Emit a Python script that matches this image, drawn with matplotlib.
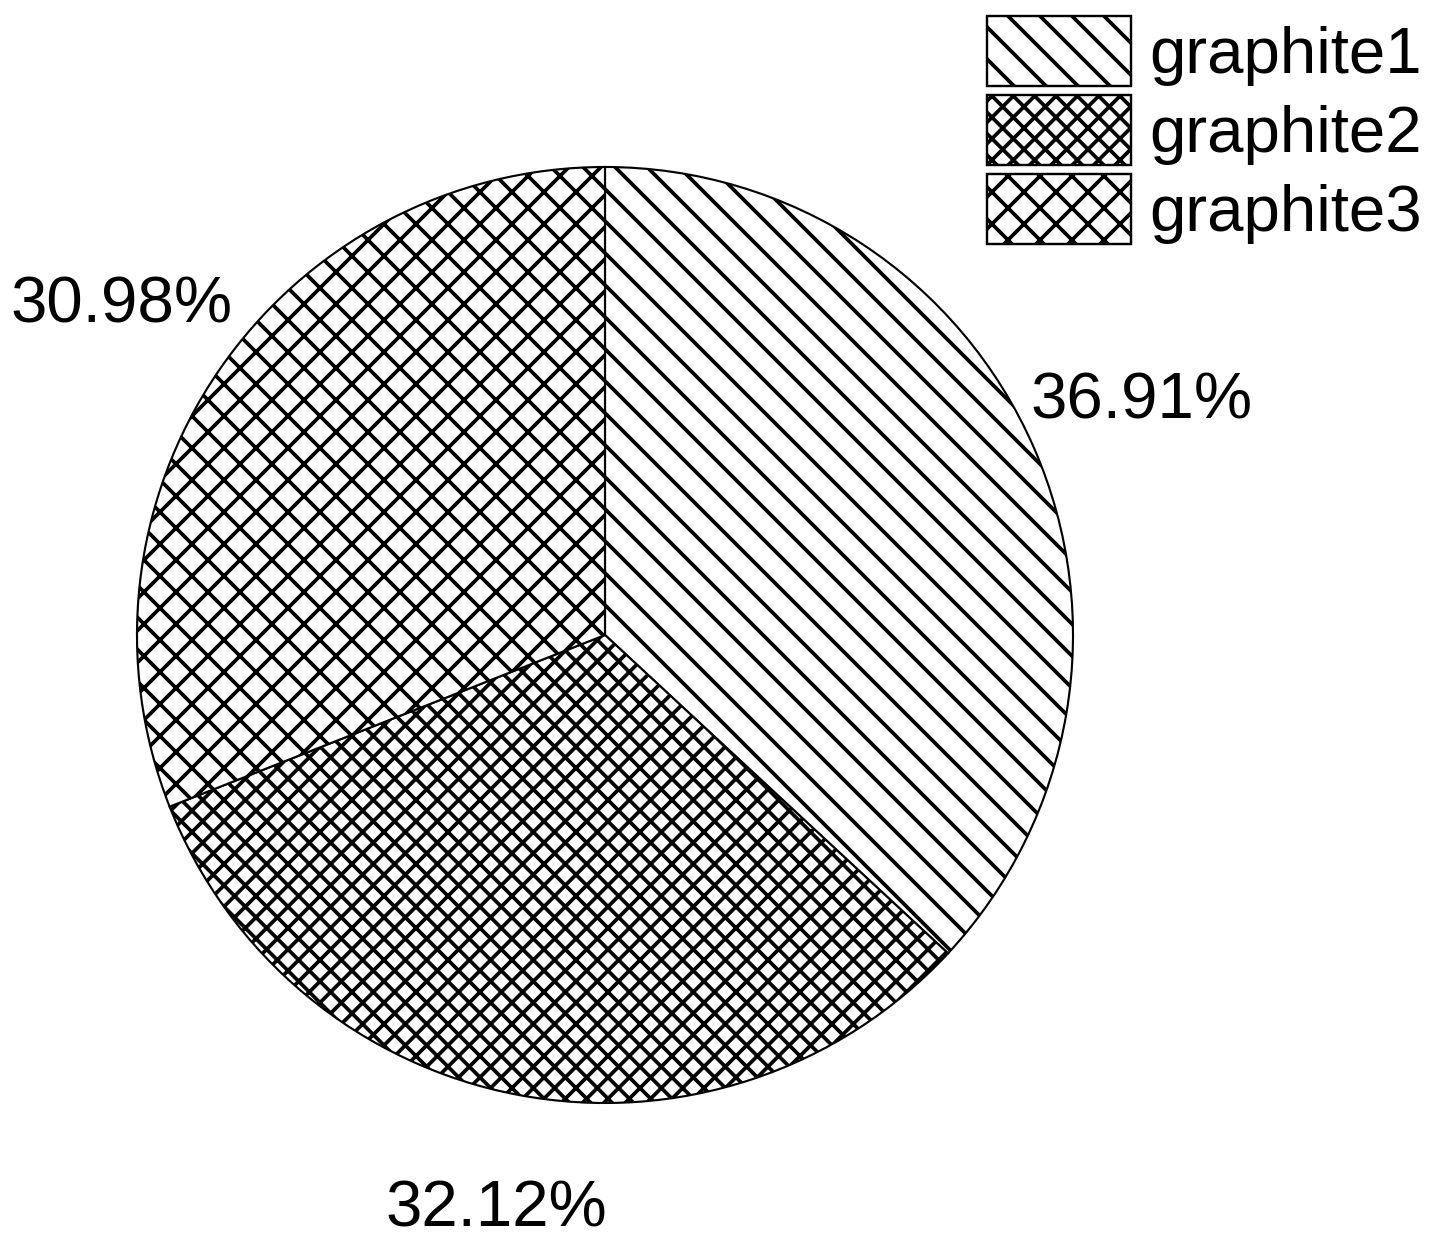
import matplotlib
matplotlib.use("Agg")
import matplotlib.pyplot as plt

# Data
labels = ['graphite1', 'graphite2', 'graphite3']
values = [36.91, 32.12, 30.98]
hatches = ['\\\\', 'xxx', 'xx']

plt.rcParams['font.family'] = ['Liberation Sans', 'DejaVu Sans']
plt.rcParams['hatch.linewidth'] = 1.4
plt.rcParams['hatch.color'] = 'black'

W, H = 1436, 1251
dpi = 192
fig = plt.figure(figsize=(W / dpi, H / dpi), dpi=dpi)
ax = fig.add_axes([0, 0, 1, 1])

wedges, texts, autotexts = ax.pie(
    values, center=(605, H - 635), radius=468,
    startangle=90, counterclock=False,
    colors=['white'] * 3, hatch=hatches,
    autopct='%.2f%%', pctdistance=1.25,
    wedgeprops=dict(edgecolor='black', linewidth=0.8),
    textprops=dict(fontsize=24.5, color='black'),
    frame=True,
)
ax.set_xlim(0, W)
ax.set_ylim(0, H)
ax.set_aspect('equal')
ax.axis('off')

leg = fig.legend(
    wedges, labels, loc='upper left',
    bbox_to_anchor=(987 / W, 1 - 16 / H),
    frameon=False, fontsize=24.5,
    handlelength=2.2, handleheight=1.27,
    labelspacing=0.14, handletextpad=0.28,
    borderpad=0, borderaxespad=0,
)
for p in leg.get_patches():
    p.set_linewidth(0.9)

fig.savefig('out.png', dpi=dpi)
